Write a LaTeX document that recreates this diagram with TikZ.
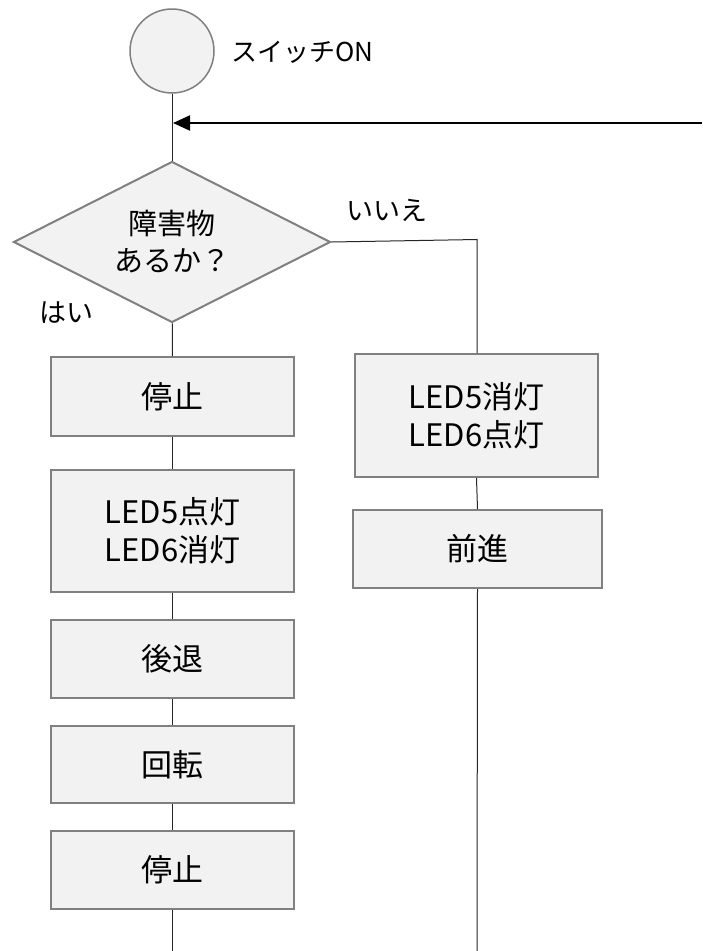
\documentclass[tikz,border=0pt]{standalone}
\usepackage{fontspec}
\setmainfont{Noto Sans CJK JP}
\usetikzlibrary{shapes.geometric,arrows.meta}
\definecolor{boxfill}{HTML}{F2F2F2}
\definecolor{boxline}{HTML}{808080}
\begin{document}
\begin{tikzpicture}[x=1pt,y=-1pt,
  proc/.style={draw=boxline, fill=boxfill, line width=2pt, minimum width=243pt,
    inner sep=0pt, align=center, font=\fontsize{31}{37}\selectfont},
  ledtext/.style={font=\fontsize{31}{38}\selectfont},
  conn/.style={draw=black!85, line width=1pt},
  lbl/.style={font=\fontsize{27}{37}\selectfont, inner sep=0pt}]
\useasboundingbox (0,0) rectangle (702,951);
\fill[white] (0,0) rectangle (702,951);
% start
\node[circle, draw=boxline, fill=boxfill, line width=1.5pt, minimum size=84pt, inner sep=0pt] (start) at (172,51) {};
\node[lbl, anchor=west, font=\fontsize{26}{30}\selectfont] (startlbl) at (231,52) {スイッチON};
% decision
\node[diamond, aspect=2, draw=boxline, fill=boxfill, line width=2pt, minimum width=317pt,
  minimum height=161pt, inner sep=0pt, align=center, font=\fontsize{29}{37}\selectfont] (dec) at (172,242) {障害物\\あるか？};
\node[lbl] (no) at (387,210) {いいえ};
\node[lbl] (yes) at (66,313) {はい};
% left branch
\node[proc, minimum height=79pt] (stop1) at (172.5,396.5) {停止};
\node[proc, ledtext, minimum height=122pt] (led1) at (172.5,531) {LED5点灯\\LED6消灯};
\node[proc, minimum height=78pt] (back) at (172.5,659) {後退};
\node[proc, minimum height=77pt] (turn) at (172.5,764.5) {回転};
\node[proc, minimum height=78pt] (stop2) at (172.5,870) {停止};
% right branch
\node[proc, ledtext, minimum height=123pt] (led2) at (476.5,415.5) {LED5消灯\\LED6点灯};
\node[proc, minimum width=249pt, minimum height=78pt] (fwd) at (477.5,549) {前進};
% connectors
\coordinate (loopin) at (173,123);
\coordinate (loopR) at (702,123);
\coordinate (corner) at (477,239.5);
\coordinate (endL) at (172.5,951);
\coordinate (endR) at (477,951);
\draw[conn] (start) -- (dec);
\draw[-{Triangle[length=17pt,width=15pt]}, line width=2pt] (loopR) -- (loopin);
\draw[conn] (dec) -- (stop1);
\draw[conn] (stop1) -- (led1);
\draw[conn] (led1) -- (back);
\draw[conn] (back) -- (turn);
\draw[conn] (turn) -- (stop2);
\draw[conn] (stop2) -- (endL);
\draw[conn] (dec.east) -- (corner) -- (corner |- led2.north);
\draw[conn] (led2.south) -- (fwd.north);
\draw[conn] (fwd.south) -- (endR);
\end{tikzpicture}
\end{document}
